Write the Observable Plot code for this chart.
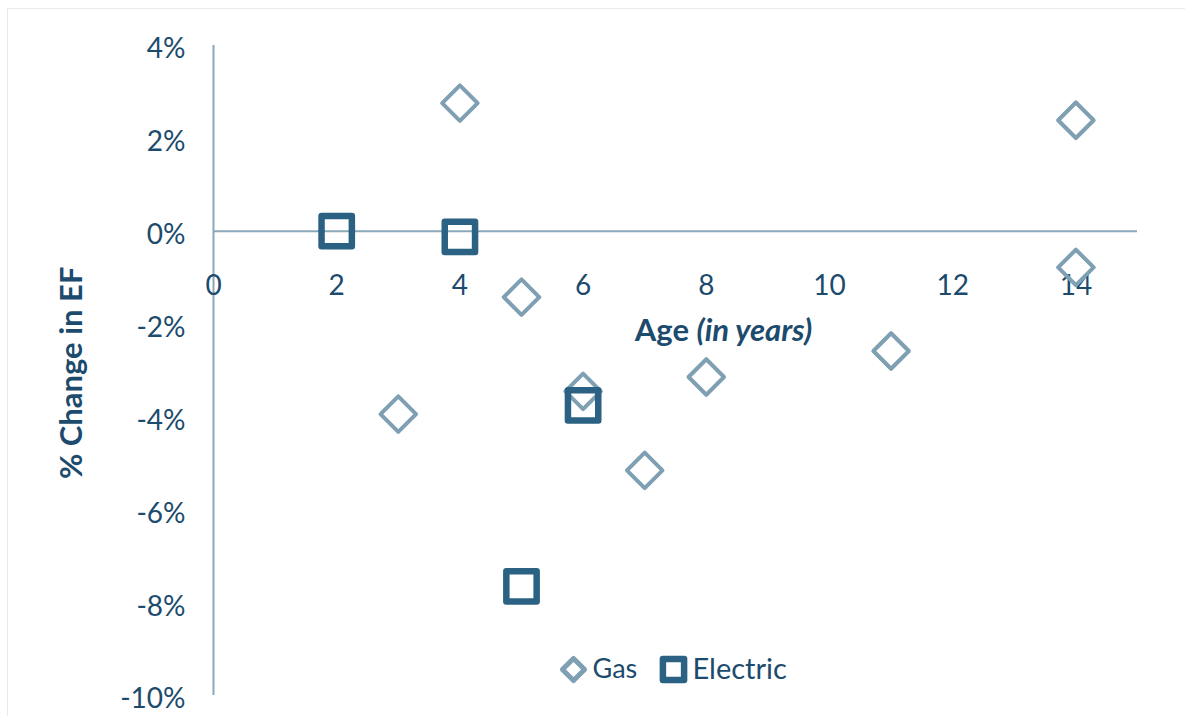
<!DOCTYPE html>
<html><head><meta charset="utf-8">
<script src="https://cdn.jsdelivr.net/npm/d3@7"></script>
<script src="https://cdn.jsdelivr.net/npm/@observablehq/plot@0.6"></script>
<style>
body{margin:0;background:#fff;}
#chart{position:relative;width:1185px;height:716px;overflow:hidden;}
#border{position:absolute;left:7px;top:8px;width:1200px;height:760px;border:1px solid #e6ebee;box-sizing:border-box;}
#chart svg{position:absolute;left:0;top:0;}
</style></head><body><div id="chart"><div id="border"></div></div>
<script>
// Data
const gasAge = [3, 4, 5, 6, 7, 8, 11, 14, 14];
const gasChange = [-3.94, 2.76, -1.42, -3.45, -5.15, -3.14, -2.58, 2.39, -0.78];
const elecAge = [2, 4, 5, 6];
const elecChange = [0.0, -0.12, -7.65, -3.75];
const xTicks = [0, 2, 4, 6, 8, 10, 12, 14];
const yTicks = [4, 2, 0, -2, -4, -6, -8, -10];
const seriesNames = ["Gas", "Electric"];
const xTitle = "Age (in years)";
const yTitle = "% Change in EF";

const gas = gasAge.map((a, i) => ({age: a, change: gasChange[i]}));
const elec = elecAge.map((a, i) => ({age: a, change: elecChange[i]}));

const textColor = "#1c4b6d";
const gasColor = "#7f9fb3";
const elecColor = "#2b6183";
const axisColor = "#8aa8ba";
const font = "Lato, 'Open Sans', sans-serif";

const chart = Plot.plot({
  width: 1185, height: 716,
  marginLeft: 213, marginRight: 48, marginTop: 45, marginBottom: 21,
  x: {domain: [0, 15], axis: null},
  y: {domain: [-10, 4]},
  style: {fontFamily: font, color: textColor, background: "transparent", overflow: "visible"},
  marks: [
    Plot.axisY({ticks: yTicks, tickSize: 0, tickPadding: 28, dy: 4, tickFormat: d => d + "%", fontSize: 28, fill: textColor, label: null}),
    Plot.ruleX([0], {stroke: axisColor, strokeWidth: 2}),
    Plot.ruleY([0], {stroke: axisColor, strokeWidth: 2}),
    Plot.text(xTicks, {x: d => d, y: 0, dy: 55, text: d => String(d), fontSize: 28, fill: textColor}),
    Plot.text([yTitle], {x: 0, y: -3.05, dx: -141, rotate: -90, textAnchor: "middle", lineAnchor: "middle", fontWeight: "bold", fontSize: 31, fill: textColor}),
    Plot.text([xTitle], {x: 8.28, y: -2.15, textAnchor: "middle", lineAnchor: "middle", fontWeight: "bold", fontSize: 31, fill: textColor, className: "xlabel"}),
    Plot.dot(gas, {x: "age", y: "change", symbol: "diamond2", r: 16, stroke: gasColor, strokeWidth: 4, strokeLinejoin: "round", fill: "none"}),
    Plot.dot(elec, {x: "age", y: "change", symbol: "square2", r: 19.3, stroke: elecColor, strokeWidth: 6.5, strokeLinejoin: "round", fill: "none"}),
    // legend
    Plot.dot([0], {frameAnchor: "bottom", dx: -102, dy: -26, symbol: "diamond2", r: 10, stroke: gasColor, strokeWidth: 5, strokeLinejoin: "round", fill: "none"}),
    Plot.text([seriesNames[0]], {frameAnchor: "bottom", dx: -83, dy: -26, textAnchor: "start", lineAnchor: "middle", fontSize: 27, fill: textColor}),
    Plot.dot([0], {frameAnchor: "bottom", dx: -2, dy: -26, symbol: "square2", r: 13.5, stroke: elecColor, strokeWidth: 6.5, strokeLinejoin: "round", fill: "none"}),
    Plot.text([seriesNames[1]], {frameAnchor: "bottom", dx: 17, dy: -26, textAnchor: "start", lineAnchor: "middle", fontSize: 29, fill: textColor})
  ]
});

d3.select(chart).selectAll(".xlabel text").each(function() {
  const t = d3.select(this);
  t.text(null);
  t.append("tspan").text("Age ");
  t.append("tspan").attr("font-style", "italic").text("(in years)");
});

document.getElementById("chart").appendChild(chart);
</script>
</body></html>
